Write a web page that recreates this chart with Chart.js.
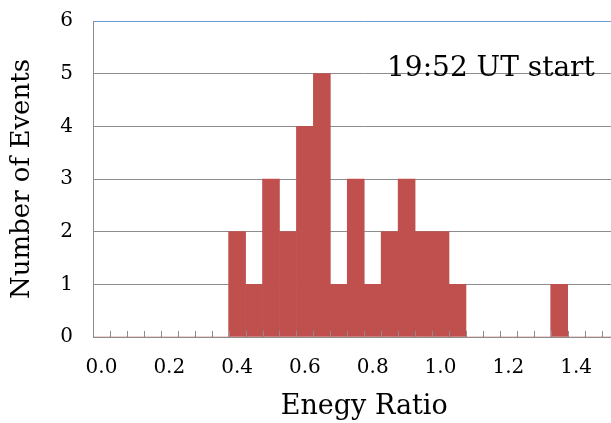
<!DOCTYPE html>
<html>
<head>
<meta charset="utf-8">
<script src="https://cdn.jsdelivr.net/npm/chart.js@4.4.0/dist/chart.umd.min.js"></script>
<style>
  html, body { margin: 0; padding: 0; background: #fff; overflow: hidden; }
  #wrap { width: 611px; height: 423px; overflow: hidden; position: relative; }
  #box { width: 646px; height: 423px; }
</style>
</head>
<body>
<div id="wrap"><div id="box"><canvas id="histChart"></canvas></div></div>
<script>
const ratioBins = ['0.00', '0.05', '0.10', '0.15', '0.20', '0.25', '0.30', '0.35',
                   '0.40', '0.45', '0.50', '0.55', '0.60', '0.65', '0.70', '0.75',
                   '0.80', '0.85', '0.90', '0.95', '1.00', '1.05', '1.10', '1.15',
                   '1.20', '1.25', '1.30', '1.35', '1.40', '1.45', '1.50', '1.55'];
const eventCounts = [0, 0, 0, 0, 0, 0, 0, 0,
                     2, 1, 3, 2, 4, 5, 1, 3,
                     1, 2, 3, 2, 2, 1, 0, 0,
                     0, 0, 0, 1, 0, 0, 0, 0];
const yTicks = [0, 1, 2, 3, 4, 5, 6];
const noteText = '19:52 UT start';

const serif = "'DejaVu Serif', 'Liberation Serif', serif";
const gridGray = '#8c8c8c';

// small inward tick marks between categories, drawn over the bars
const insideTicks = {
    id: 'insideTicks',
    afterDatasetsDraw(chart) {
        const x = chart.scales.x;
        const ctx = chart.ctx;
        const bottom = chart.chartArea.bottom;
        ctx.save();
        ctx.strokeStyle = gridGray;
        ctx.lineWidth = 1;
        for (let i = 1; i < ratioBins.length; i++) {
            const px = Math.round((x.getPixelForTick(i - 1) + x.getPixelForTick(i)) / 2) + 0.5;
            ctx.beginPath();
            ctx.moveTo(px, bottom);
            ctx.lineTo(px, bottom - 6);
            ctx.stroke();
        }
        ctx.restore();
    }
};

const noteLabel = {
    id: 'noteLabel',
    afterDraw(chart) {
        const ctx = chart.ctx;
        const y = chart.scales.y;
        ctx.save();
        ctx.font = '28px ' + serif;
        ctx.fillStyle = '#000';
        ctx.textAlign = 'left';
        ctx.textBaseline = 'middle';
        ctx.fillText(noteText, 387, y.getPixelForValue(5.1));
        ctx.restore();
    }
};

const ctx = document.getElementById('histChart').getContext('2d');
new Chart(ctx, {
    type: 'bar',
    data: {
        labels: ratioBins,
        datasets: [{
            label: 'Events',
            data: eventCounts,
            backgroundColor: '#c0504d',
            borderWidth: 0,
            barPercentage: 1.0,
            categoryPercentage: 1.0
        }]
    },
    options: {
        responsive: true,
        maintainAspectRatio: false,
        animation: false,
        layout: { padding: 0 },
        plugins: {
            legend: { display: false },
            tooltip: { enabled: false }
        },
        scales: {
            x: {
                grid: { drawOnChartArea: false, drawTicks: false },
                border: { color: gridGray, width: 1 },
                ticks: {
                    autoSkip: false,
                    maxRotation: 0,
                    padding: 19,
                    color: '#000',
                    font: { family: serif, size: 20 },
                    callback: function(value, index) {
                        return index % 4 === 0 ? parseFloat(ratioBins[index]).toFixed(1) : '';
                    }
                },
                title: {
                    display: true,
                    text: 'Enegy Ratio',
                    color: '#000',
                    font: { family: serif, size: 27 },
                    padding: { top: 0, bottom: 0 }
                },
                afterFit: function(scale) { scale.height = 86; }
            },
            y: {
                min: 0,
                max: 6,
                ticks: {
                    stepSize: 1,
                    padding: 20,
                    color: '#000',
                    font: { family: serif, size: 20 },
                    callback: function(value) {
                        return yTicks.includes(value) ? value : '';
                    }
                },
                grid: {
                    drawTicks: false,
                    color: function(c) { return c.tick && c.tick.value === 6 ? '#6f9bd5' : gridGray; }
                },
                border: { color: gridGray, width: 1 },
                title: {
                    display: true,
                    text: 'Number of Events',
                    color: '#000',
                    font: { family: serif, size: 26 },
                    padding: { top: 7, bottom: 0 }
                },
                afterFit: function(scale) {
                    scale.width = 93;
                    scale.paddingTop = 21;
                    scale.paddingBottom = 0;
                }
            }
        }
    },
    plugins: [insideTicks, noteLabel]
});
</script>
</body>
</html>
